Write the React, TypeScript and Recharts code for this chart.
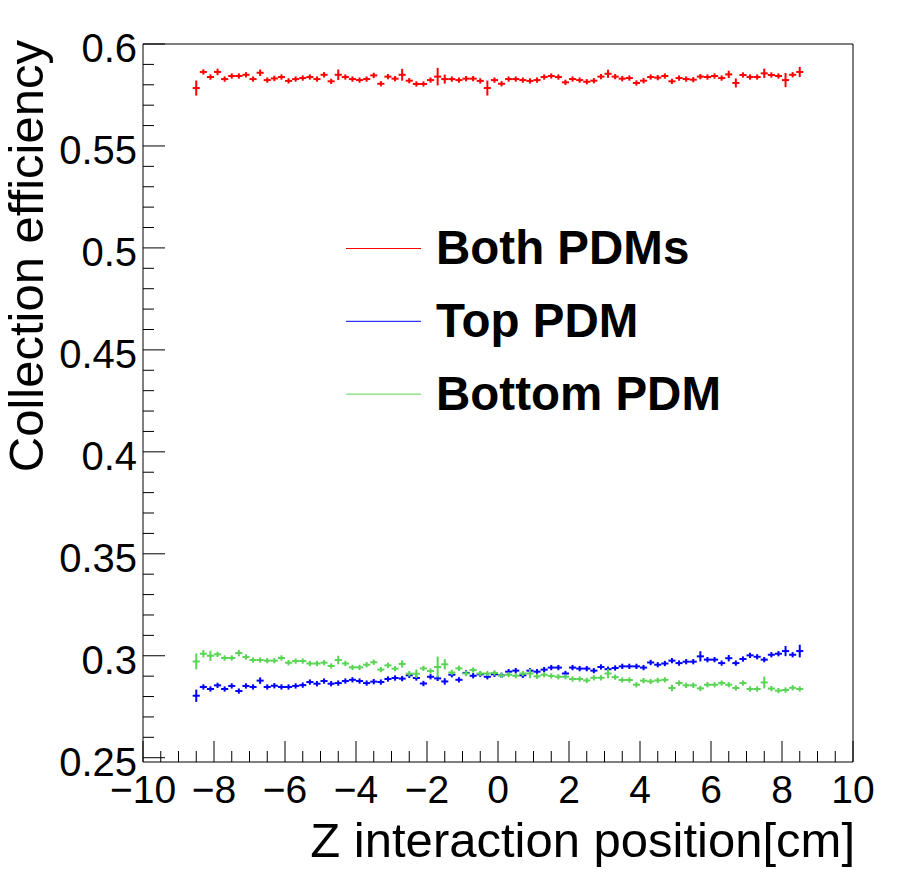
import React from 'react';
import { ScatterChart, Scatter, XAxis, YAxis, ErrorBar, ReferenceLine, Legend } from 'recharts';

// ---------- data ----------
const zCenters: number[] = [
  -8.5, -8.3, -8.1, -7.9, -7.7, -7.5, -7.3, -7.1, -6.9, -6.7,
  -6.5, -6.3, -6.1, -5.9, -5.7, -5.5, -5.3, -5.1, -4.9, -4.7,
  -4.5, -4.3, -4.1, -3.9, -3.7, -3.5, -3.3, -3.1, -2.9, -2.7,
  -2.5, -2.3, -2.1, -1.9, -1.7, -1.5, -1.3, -1.1, -0.9, -0.7,
  -0.5, -0.3, -0.1, 0.1, 0.3, 0.5, 0.7, 0.9, 1.1, 1.3,
  1.5, 1.7, 1.9, 2.1, 2.3, 2.5, 2.7, 2.9, 3.1, 3.3,
  3.5, 3.7, 3.9, 4.1, 4.3, 4.5, 4.7, 4.9, 5.1, 5.3,
  5.5, 5.7, 5.9, 6.1, 6.3, 6.5, 6.7, 6.9, 7.1, 7.3,
  7.5, 7.7, 7.9, 8.1, 8.3, 8.5,
];
const BIN_HALF_WIDTH = 0.1;

const bothPDMs: number[] = [
  0.5784, 0.5863, 0.5838, 0.5863, 0.5828, 0.5843, 0.5843, 0.5849, 0.5828, 0.5859,
  0.5823, 0.5831, 0.5838, 0.5819, 0.5828, 0.5833, 0.5838, 0.5828, 0.5849, 0.5817,
  0.5849, 0.5838, 0.5828, 0.5823, 0.5828, 0.5846, 0.5805, 0.5840, 0.5830, 0.5849,
  0.5820, 0.5804, 0.5804, 0.5823, 0.5840, 0.5828, 0.5828, 0.5823, 0.5830, 0.5830,
  0.5819, 0.5784, 0.5823, 0.5805, 0.5828, 0.5828, 0.5823, 0.5819, 0.5823, 0.5838,
  0.5843, 0.5838, 0.5812, 0.5828, 0.5823, 0.5815, 0.5820, 0.5840, 0.5854, 0.5840,
  0.5830, 0.5833, 0.5809, 0.5820, 0.5838, 0.5835, 0.5843, 0.5817, 0.5833, 0.5828,
  0.5825, 0.5840, 0.5838, 0.5843, 0.5833, 0.5851, 0.5809, 0.5848, 0.5838, 0.5838,
  0.5856, 0.5848, 0.5843, 0.5823, 0.5849, 0.5863,
];
const bothErr: number[] = [
  0.0037, 0.0013, 0.0013, 0.0016, 0.0013, 0.0013, 0.0013, 0.0013, 0.0013, 0.0016,
  0.0013, 0.0013, 0.0013, 0.0013, 0.0013, 0.0013, 0.0013, 0.0013, 0.0013, 0.0013,
  0.0026, 0.0013, 0.0013, 0.0013, 0.0013, 0.0013, 0.0013, 0.0013, 0.0013, 0.0029,
  0.0013, 0.0013, 0.0013, 0.0013, 0.0043, 0.0022, 0.0013, 0.0013, 0.0013, 0.0013,
  0.0013, 0.0037, 0.0013, 0.0013, 0.0013, 0.0013, 0.0013, 0.0013, 0.0013, 0.0013,
  0.0013, 0.0013, 0.0013, 0.0013, 0.0013, 0.0013, 0.0013, 0.0013, 0.0020, 0.0013,
  0.0013, 0.0013, 0.0013, 0.0013, 0.0013, 0.0013, 0.0013, 0.0013, 0.0013, 0.0013,
  0.0013, 0.0013, 0.0013, 0.0013, 0.0013, 0.0018, 0.0022, 0.0013, 0.0013, 0.0013,
  0.0023, 0.0013, 0.0013, 0.0035, 0.0013, 0.0025,
];

const topPDM: number[] = [
  0.2804, 0.2847, 0.2837, 0.2855, 0.2837, 0.2852, 0.2827, 0.2852, 0.2847, 0.2878,
  0.2847, 0.2853, 0.2847, 0.2847, 0.2852, 0.2856, 0.2871, 0.2863, 0.2876, 0.2863,
  0.2866, 0.2876, 0.2882, 0.2876, 0.2866, 0.2873, 0.2871, 0.2886, 0.2891, 0.2888,
  0.2904, 0.2891, 0.2864, 0.2897, 0.2889, 0.2874, 0.2907, 0.2882, 0.2916, 0.2902,
  0.2909, 0.2897, 0.2909, 0.2904, 0.2922, 0.2927, 0.2904, 0.2927, 0.2922, 0.2932,
  0.2942, 0.2942, 0.2913, 0.2942, 0.2937, 0.2937, 0.2927, 0.2945, 0.2934, 0.2940,
  0.2948, 0.2948, 0.2948, 0.2942, 0.2967, 0.2956, 0.2962, 0.2976, 0.2964, 0.2971,
  0.2971, 0.2997, 0.2981, 0.2981, 0.2964, 0.2988, 0.2964, 0.2984, 0.3002, 0.2995,
  0.2981, 0.3005, 0.3010, 0.3023, 0.3005, 0.3023,
];
const topErr: number[] = [
  0.0030, 0.0013, 0.0013, 0.0013, 0.0013, 0.0013, 0.0013, 0.0013, 0.0013, 0.0016,
  0.0013, 0.0013, 0.0013, 0.0013, 0.0013, 0.0013, 0.0013, 0.0013, 0.0013, 0.0013,
  0.0013, 0.0013, 0.0013, 0.0013, 0.0013, 0.0013, 0.0013, 0.0013, 0.0013, 0.0013,
  0.0013, 0.0013, 0.0013, 0.0013, 0.0013, 0.0016, 0.0013, 0.0013, 0.0013, 0.0013,
  0.0013, 0.0013, 0.0013, 0.0013, 0.0013, 0.0013, 0.0013, 0.0013, 0.0013, 0.0013,
  0.0013, 0.0013, 0.0013, 0.0013, 0.0013, 0.0013, 0.0013, 0.0013, 0.0013, 0.0013,
  0.0013, 0.0013, 0.0013, 0.0013, 0.0013, 0.0013, 0.0013, 0.0013, 0.0013, 0.0013,
  0.0013, 0.0025, 0.0013, 0.0013, 0.0013, 0.0016, 0.0013, 0.0013, 0.0013, 0.0013,
  0.0013, 0.0013, 0.0013, 0.0025, 0.0013, 0.0031,
];

const bottomPDM: number[] = [
  0.2972, 0.3010, 0.3000, 0.3007, 0.2989, 0.2989, 0.3013, 0.2994, 0.2979, 0.2979,
  0.2976, 0.2976, 0.2989, 0.2966, 0.2974, 0.2974, 0.2962, 0.2962, 0.2966, 0.2950,
  0.2979, 0.2962, 0.2943, 0.2943, 0.2956, 0.2968, 0.2932, 0.2953, 0.2937, 0.2960,
  0.2912, 0.2912, 0.2938, 0.2925, 0.2945, 0.2958, 0.2918, 0.2938, 0.2913, 0.2930,
  0.2913, 0.2913, 0.2916, 0.2904, 0.2907, 0.2902, 0.2913, 0.2913, 0.2899, 0.2907,
  0.2901, 0.2897, 0.2897, 0.2886, 0.2886, 0.2879, 0.2892, 0.2892, 0.2913, 0.2895,
  0.2881, 0.2881, 0.2858, 0.2878, 0.2874, 0.2879, 0.2882, 0.2842, 0.2866, 0.2855,
  0.2855, 0.2840, 0.2858, 0.2858, 0.2866, 0.2858, 0.2842, 0.2866, 0.2837, 0.2837,
  0.2869, 0.2839, 0.2829, 0.2832, 0.2843, 0.2837,
];
const bottomErr: number[] = [
  0.0039, 0.0018, 0.0025, 0.0013, 0.0013, 0.0013, 0.0016, 0.0013, 0.0013, 0.0013,
  0.0013, 0.0013, 0.0013, 0.0013, 0.0013, 0.0013, 0.0013, 0.0013, 0.0013, 0.0013,
  0.0021, 0.0013, 0.0013, 0.0013, 0.0013, 0.0013, 0.0013, 0.0013, 0.0013, 0.0018,
  0.0013, 0.0021, 0.0013, 0.0013, 0.0051, 0.0025, 0.0013, 0.0013, 0.0013, 0.0013,
  0.0013, 0.0013, 0.0013, 0.0013, 0.0013, 0.0013, 0.0013, 0.0023, 0.0013, 0.0013,
  0.0013, 0.0013, 0.0013, 0.0013, 0.0013, 0.0013, 0.0013, 0.0013, 0.0023, 0.0013,
  0.0013, 0.0013, 0.0013, 0.0013, 0.0013, 0.0013, 0.0013, 0.0016, 0.0013, 0.0013,
  0.0013, 0.0013, 0.0013, 0.0013, 0.0013, 0.0013, 0.0013, 0.0013, 0.0013, 0.0013,
  0.0029, 0.0013, 0.0013, 0.0013, 0.0013, 0.0013,
];

const seriesNames: string[] = ['Both PDMs', 'Top PDM', 'Bottom PDM'];
const seriesColors: string[] = ['#ff0000', '#0000ff', '#59d454'];

const xMajorTicks: number[] = [-10, -8, -6, -4, -2, 0, 2, 4, 6, 8, 10];
const xTickLabels: string[] = ['\u221210', '\u22128', '\u22126', '\u22124', '\u22122', '0', '2', '4', '6', '8', '10'];
const yMajorTicks: number[] = [0.25, 0.3, 0.35, 0.4, 0.45, 0.5, 0.55, 0.6];
const yTickLabels: string[] = ['0.25', '0.3', '0.35', '0.4', '0.45', '0.5', '0.55', '0.6'];

const X_DOMAIN: [number, number] = [-10, 10];
const Y_DOMAIN: [number, number] = [0.2479, 0.6];
const xAllTicks: number[] = [];
for (let i = 0; i <= 40; i++) xAllTicks.push(i * 0.5 - 10);
const yAllTicks: number[] = [];
for (let i = 0; i <= 35; i++) yAllTicks.push(Math.round((0.25 + i * 0.01) * 1000) / 1000);

// ---------- layout ----------
const W = 898;
const H = 876;
const FONT = '"Liberation Sans", Arial, Helvetica, sans-serif';

type Row = { z: number; v: number; ey: number; ex: number };
const buildRows = (values: number[], errors: number[]): Row[] =>
  zCenters.map((z, i) => ({ z, v: values[i], ey: errors[i], ex: BIN_HALF_WIDTH }));

const seriesRows: Row[][] = [
  buildRows(bothPDMs, bothErr),
  buildRows(topPDM, topErr),
  buildRows(bottomPDM, bottomErr),
];

const XTick = (props: any) => {
  const { x, y, payload } = props;
  const v = payload.value as number;
  const mi = xMajorTicks.findIndex((t) => Math.abs(t - v) < 1e-9);
  const len = mi >= 0 ? 21 : 11;
  return (
    <g>
      <line x1={x} y1={y} x2={x} y2={y - len} stroke="#000" strokeWidth={1} />
      {mi >= 0 && (
        <text x={x} y={y + 41} textAnchor="middle" fontFamily={FONT} fontSize={39} fill="#000">
          {xTickLabels[mi]}
        </text>
      )}
    </g>
  );
};

const YTick = (props: any) => {
  const { x, y, payload } = props;
  const v = payload.value as number;
  const mi = yMajorTicks.findIndex((t) => Math.abs(t - v) < 1e-9);
  const len = mi >= 0 ? 22 : 11;
  return (
    <g>
      <line x1={x} y1={y} x2={x + len} y2={y} stroke="#000" strokeWidth={1} />
      {mi >= 0 && (
        <text x={x - 6} y={y + 18} textAnchor="end" fontFamily={FONT} fontSize={40} fill="#000">
          {yTickLabels[mi]}
        </text>
      )}
    </g>
  );
};

const XTitle = (props: any) => {
  const vb = props.viewBox || { x: 143, y: 762, width: 710, height: 114 };
  return (
    <text x={vb.x + vb.width + 2} y={vb.y + 95} textAnchor="end" fontFamily={FONT} fontSize={49} fill="#000">
      Z interaction position[cm]
    </text>
  );
};

const YTitle = (props: any) => {
  const vb = props.viewBox || { x: 0, y: 44, width: 143, height: 718 };
  const tx = vb.x + 43;
  const ty = vb.y - 4;
  return (
    <text
      x={tx}
      y={ty}
      transform={`rotate(-90, ${tx}, ${ty})`}
      textAnchor="end"
      fontFamily={FONT}
      fontSize={49}
      fill="#000"
    >
      Collection efficiency
    </text>
  );
};

const LegendBox = () => (
  <svg width={W} height={H} style={{ position: 'absolute', left: 0, top: 0, pointerEvents: 'none' }}>
    {seriesNames.map((name, k) => (
      <g key={name}>
        <line x1={346} x2={421} y1={248.5 + k * 72.8} y2={248.5 + k * 72.8} stroke={seriesColors[k]} strokeWidth={1} />
        <text x={436} y={264 + k * 72.8} fontFamily={FONT} fontWeight="bold" fontSize={47.5} fill="#000">
          {name}
        </text>
      </g>
    ))}
  </svg>
);

const hiddenShape = () => <g />;

export default function App() {
  return (
    <div style={{ position: 'absolute', left: 0, top: 0, width: W, height: H, background: '#fff' }}>
      <ScatterChart width={W} height={H} margin={{ top: 44, right: 45, bottom: 0, left: 0 }}>
        <XAxis
          type="number"
          dataKey="z"
          domain={X_DOMAIN}
          allowDataOverflow
          ticks={xAllTicks}
          interval={0}
          tickSize={0}
          tickMargin={0}
          tickLine={false}
          tick={<XTick />}
          axisLine={{ stroke: '#000', strokeWidth: 1 }}
          height={114}
          label={<XTitle />}
        />
        <YAxis
          type="number"
          dataKey="v"
          domain={Y_DOMAIN}
          allowDataOverflow
          ticks={yAllTicks}
          interval={0}
          tickSize={0}
          tickMargin={0}
          tickLine={false}
          tick={<YTick />}
          axisLine={{ stroke: '#000', strokeWidth: 1 }}
          width={143}
          label={<YTitle />}
        />
        <ReferenceLine y={0.6} stroke="#000" strokeWidth={1} />
        <ReferenceLine x={10} stroke="#000" strokeWidth={1} />
        {seriesRows.map((rows, k) => (
          <Scatter
            key={seriesNames[k]}
            name={seriesNames[k]}
            data={rows}
            fill={seriesColors[k]}
            shape={hiddenShape}
            isAnimationActive={false}
          >
            <ErrorBar dataKey="ex" direction="x" width={0} stroke={seriesColors[k]} strokeWidth={2} isAnimationActive={false} />
            <ErrorBar dataKey="ey" direction="y" width={0} stroke={seriesColors[k]} strokeWidth={2} isAnimationActive={false} />
          </Scatter>
        ))}
        <Legend
          layout="vertical"
          align="center"
          verticalAlign="middle"
          content={<LegendBox />}
          wrapperStyle={{ position: 'absolute', left: 0, top: 0, width: W, height: H, pointerEvents: 'none' }}
        />
      </ScatterChart>
    </div>
  );
}
